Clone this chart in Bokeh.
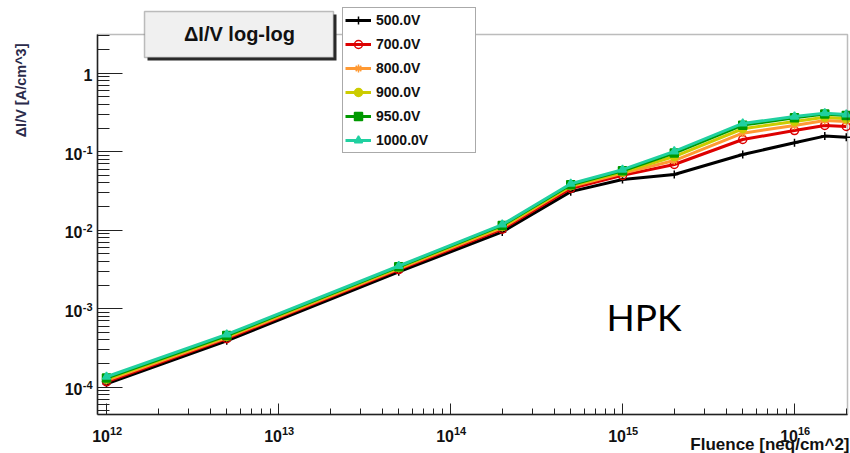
from bokeh.plotting import figure
from bokeh.models import (Range1d, FixedTicker, Label, BoxAnnotation, Legend, LegendItem,
                          CustomJSTickFormatter)
from bokeh.embed import file_html
from bokeh.resources import INLINE

# ---------------- data ----------------
fluence = [1e12, 5e12, 5e13, 2e14, 5e14, 1e15, 2e15, 5e15, 1e16, 1.5e16, 2e16]
v500 = [1.10e-4, 3.9e-4, 2.95e-3, 9.5e-3, 0.031, 0.0443, 0.0512, 0.092, 0.130, 0.158, 0.153]
v700 = [1.17e-4, 4.15e-4, 3.15e-3, 1.03e-2, 0.034, 0.0499, 0.0687, 0.143, 0.186, 0.216, 0.210]
v800 = [1.22e-4, 4.3e-4, 3.25e-3, 1.08e-2, 0.036, 0.053, 0.0772, 0.172, 0.216, 0.250, 0.243]
v900 = [1.27e-4, 4.45e-4, 3.35e-3, 1.12e-2, 0.037, 0.055, 0.0868, 0.196, 0.243, 0.275, 0.263]
v950 = [1.31e-4, 4.55e-4, 3.42e-3, 1.15e-2, 0.038, 0.057, 0.0960, 0.218, 0.270, 0.302, 0.289]
v1000 = [1.36e-4, 4.7e-4, 3.5e-3, 1.18e-2, 0.039, 0.059, 0.101, 0.229, 0.280, 0.310, 0.298]
series_labels = ["500.0V", "700.0V", "800.0V", "900.0V", "950.0V", "1000.0V"]
series_values = [v500, v700, v800, v900, v950, v1000]

x_exponents = [12, 13, 14, 15, 16]
y_exponents = [-4, -3, -2, -1, 0]

title_text = "ΔI/V log-log"
x_title = "Fluence [neq/cm^2]"
y_title = "ΔI/V [A/cm^3]"
note_text = "HPK"

# ---------------- styles ----------------
colors = ["#000000", "#dd0000", "#ff9933", "#cccc00", "#009900", "#20d0a0"]
markers = ["cross", "circle", "asterisk", "circle", "square", "triangle"]
marker_fill = [1, 0, 1, 1, 1, 1]
FONT = "Liberation Sans"
INK = "#111111"
BASE_SHIFT = 0.38   # em; alphabetic anchor correction

# geometry (picture pixels, from top-left)
W, H = 850, 453
FL, FR, FT, FB = 97, 847, 34, 414      # axes box
X12, DEC_X = 106, 172                  # pixel of 1e12, pixels per x decade
Y0, DEC_Y = 72.7, 78.5                 # pixel of 1, pixels per y decade


def xv(px):
    return 10 ** (12 + (px - X12) / DEC_X)


def yv(py):
    return 10 ** (-(py - Y0) / DEC_Y)


def sx(xi):
    return xi


def sy(yi):
    return H - yi


def base(yi, size):
    # picture baseline -> label anchor
    return sy(yi - BASE_SHIFT * size)


p = figure(width=W, height=H, x_axis_type="log", y_axis_type="log",
           x_range=Range1d(xv(0), xv(W)), y_range=Range1d(yv(H), yv(0)),
           output_backend="svg", toolbar_location=None,
           min_border_left=0, min_border_right=0, min_border_top=0, min_border_bottom=0)
p.xgrid.visible = False
p.ygrid.visible = False
p.background_fill_color = "white"
p.border_fill_color = "white"
p.outline_line_color = None

x_lo, x_hi = xv(FL + 1.5), xv(FR - 1)
y_lo, y_hi = yv(FB - 1), yv(FT + 1)
x_major = [10.0 ** e for e in x_exponents]
x_minor = [m * 10.0 ** e for e in range(11, 17) for m in range(2, 10)
           if x_lo <= m * 10.0 ** e <= x_hi]
y_major = [10.0 ** e for e in y_exponents]
y_minor = [m * 10.0 ** e for e in range(-5, 1) for m in range(2, 10)
           if y_lo <= m * 10.0 ** e <= y_hi]

ax = p.xaxis[0]
ax.fixed_location = yv(FB)
ax.bounds = (xv(FL), xv(FR))
ax.ticker = FixedTicker(ticks=x_major, minor_ticks=x_minor)
ax.formatter = CustomJSTickFormatter(code="return ''")
ax.major_tick_in = 11
ax.major_tick_out = 0
ax.minor_tick_in = 6
ax.minor_tick_out = 0
ax.axis_line_color = "#222222"
ax.axis_line_width = 1.5
ax.major_tick_line_color = "#222222"
ax.minor_tick_line_color = "#222222"

ay = p.yaxis[0]
ay.fixed_location = xv(FL)
ay.bounds = (yv(FB), yv(FT))
ay.ticker = FixedTicker(ticks=y_major, minor_ticks=y_minor)
ay.formatter = CustomJSTickFormatter(code="return ''")
ay.major_tick_in = 25
ay.major_tick_out = 0
ay.minor_tick_in = 12
ay.minor_tick_out = 0
ay.axis_line_color = "#222222"
ay.axis_line_width = 1.5
ay.major_tick_line_color = "#222222"
ay.minor_tick_line_color = "#222222"

# frame border (top and right sides)
p.add_layout(BoxAnnotation(left=xv(FL), right=xv(FR), bottom=yv(FB), top=yv(FT),
                           fill_alpha=0, line_color="#222222", line_width=1.5))

# ---------------- series ----------------
items = []
for lab, vals, c, m, f in zip(series_labels, series_values, colors, markers, marker_fill):
    lr = p.line(fluence, vals, line_color=c, line_width=3)
    sr = p.scatter(fluence, vals, marker=m, size=8, line_color=c, fill_color=c,
                   fill_alpha=f, line_width=1.5)
    items.append(LegendItem(label=lab, renderers=[lr, sr]))

legend = Legend(items=items, location=(sx(342), sy(153)), margin=0, padding=2,
                spacing=4, label_height=20, glyph_height=20, glyph_width=26,
                label_standoff=5, label_width=97,
                label_text_font=FONT, label_text_font_style="bold",
                label_text_font_size="14px", label_text_color=INK,
                background_fill_color="white", background_fill_alpha=1.0,
                border_line_color="#555555", border_line_width=1)
p.add_layout(legend)

# ---------------- tick labels ----------------
for e in x_exponents:
    p.add_layout(Label(x=10.0 ** e, y=base(442, 16), x_units="data", y_units="screen",
                       text="10", text_align="right", text_baseline="alphabetic",
                       x_offset=3.5, text_font=FONT, text_font_style="bold",
                       text_font_size="16px", text_color=INK))
    p.add_layout(Label(x=10.0 ** e, y=base(435, 11), x_units="data", y_units="screen",
                       text=str(e), text_align="left", text_baseline="alphabetic",
                       x_offset=3.5, text_font=FONT, text_font_style="bold",
                       text_font_size="11px", text_color=INK))

for e in y_exponents:
    if e == 0:
        p.add_layout(Label(x=sx(92), y=10.0 ** e, x_units="screen", y_units="data",
                           text="1", text_align="right", text_baseline="alphabetic",
                           y_offset=-8 + BASE_SHIFT * 16, text_font=FONT,
                           text_font_style="bold", text_font_size="16px", text_color=INK))
    else:
        p.add_layout(Label(x=sx(92), y=10.0 ** e, x_units="screen", y_units="data",
                           text=str(e), text_align="right", text_baseline="alphabetic",
                           y_offset=-2 + BASE_SHIFT * 11, text_font=FONT,
                           text_font_style="bold", text_font_size="11px", text_color=INK))
        p.add_layout(Label(x=sx(82), y=10.0 ** e, x_units="screen", y_units="data",
                           text="10", text_align="right", text_baseline="alphabetic",
                           y_offset=-8 + BASE_SHIFT * 16, text_font=FONT,
                           text_font_style="bold", text_font_size="16px", text_color=INK))

# axis titles
p.add_layout(Label(x=sx(849), y=base(450, 17), x_units="screen", y_units="screen",
                   text=x_title, text_align="right", text_baseline="alphabetic",
                   text_font=FONT, text_font_style="bold", text_font_size="17px",
                   text_color=INK))
p.add_layout(Label(x=sx(21), y=sy(43), x_units="screen", y_units="screen",
                   text=y_title, text_align="right", text_baseline="middle",
                   angle=1.5707963, text_font=FONT, text_font_style="bold",
                   text_font_size="14.5px", text_color="#2a2a4a"))

# title box with shadow
p.add_layout(BoxAnnotation(left=sx(147), right=sx(336), top=sy(14), bottom=sy(60),
                           left_units="screen", right_units="screen",
                           top_units="screen", bottom_units="screen",
                           fill_color="#2a2a2a", fill_alpha=1.0, line_color=None))
p.add_layout(BoxAnnotation(left=sx(144), right=sx(333), top=sy(11), bottom=sy(57),
                           left_units="screen", right_units="screen",
                           top_units="screen", bottom_units="screen",
                           fill_color="#f0f0f0", fill_alpha=1.0, line_color="#333333",
                           line_width=1.5))
p.add_layout(Label(x=sx(239), y=sy(33), x_units="screen", y_units="screen",
                   text=title_text, text_align="center", text_baseline="middle",
                   text_font=FONT, text_font_style="bold", text_font_size="20px",
                   text_color=INK))

# annotation text
p.add_layout(Label(x=sx(606), y=base(330, 37), x_units="screen", y_units="screen",
                   text=note_text, text_align="left", text_baseline="alphabetic",
                   text_font="Lato", text_font_size="37px", text_color="#000000"))

open("out.html", "w").write(file_html(p, INLINE))
